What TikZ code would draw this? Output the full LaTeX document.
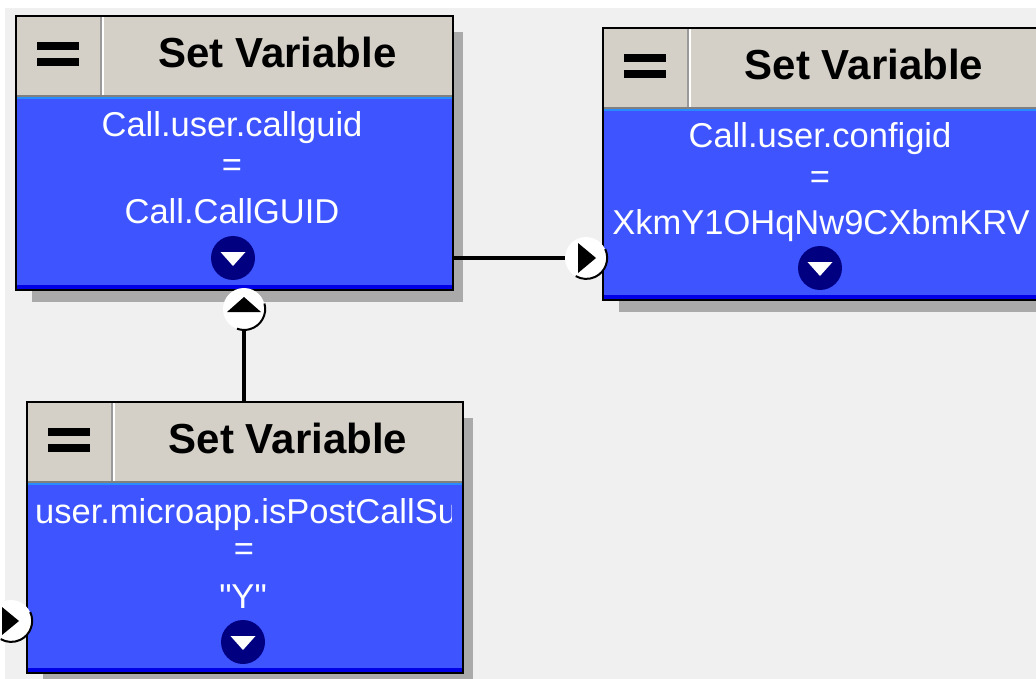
\documentclass[tikz,border=0pt]{standalone}
\usepackage{fontspec}
\setmainfont{Liberation Sans}[Ligatures=TeXOff]
\usetikzlibrary{fit}
\definecolor{bgcol}{RGB}{240,240,240}
\definecolor{hdrcol}{RGB}{212,208,200}
\definecolor{bodycol}{RGB}{61,84,255}
\definecolor{navycol}{RGB}{0,0,128}
\definecolor{shadowcol}{RGB}{170,170,170}
\definecolor{rimcol}{RGB}{40,140,255}
\definecolor{basecol}{RGB}{0,0,230}
\tikzset{
  boxshadow/.style={fill=shadowcol},
  boxbody/.style={fill=bodycol},
  boxhead/.style={fill=hdrcol},
  boxframe/.style={draw=black, line width=2.5pt},
  titletext/.style={font=\fontsize{42}{42}\selectfont\bfseries, text=black, inner sep=0, anchor=base},
  bodytext/.style={font=\fontsize{34.5}{34.5}\selectfont, text=white, inner sep=0, anchor=base},
  eqtext/.style={font=\fontsize{34.5}{34.5}\selectfont, text=white, inner sep=0},
  outport/.style={circle, fill=navycol, minimum size=44pt, inner sep=0},
  inport/.style={circle, fill=white, minimum size=42pt, inner sep=0},
  portrim/.style={draw=black, line width=2pt},
  conn/.style={draw=black, line width=3.5pt},
}
\newcommand\svblock[5]{%
  \fill[boxshadow] (#2+16,#3+16) rectangle (#4+10,#5+12);
  \fill[boxbody] (#2,#3+80) rectangle (#4,#5);
  \fill[boxhead] (#2,#3) rectangle (#4,#3+80);
  \draw[gray, line width=2pt] (#2,#3+80) -- (#4,#3+80);
  \draw[rimcol, line width=2pt] (#2,#3+82) -- (#4,#3+82);
  \draw[basecol, line width=4pt] (#2,#5-3) -- (#4,#5-3);
  \draw[gray!80, line width=1.5pt] (#2+85,#3) -- (#2+85,#3+79);
  \draw[white, line width=1.5pt] (#2+87,#3) -- (#2+87,#3+79);
  \fill[black] (#2+21,#3+26) rectangle (#2+63,#3+34);
  \fill[black] (#2+21,#3+42) rectangle (#2+63,#3+50);
  \draw[boxframe] (#2,#3) rectangle (#4,#5);
  \path (#2,#3) coordinate (#1nw) (#4,#5) coordinate (#1se);
  \node[fit=(#1nw)(#1se), inner sep=0, outer sep=0] (#1) {};
}
\newcommand\svout[3]{%
  \node[outport] (#1) at (#2,#3) {};
  \fill[white] (#2-12.5,#3-6) -- (#2+12.5,#3-6) -- (#2,#3+8) -- cycle;
}
\begin{document}
\begin{tikzpicture}[x=1pt,y=-1pt]
\useasboundingbox (0,0) rectangle (1036,679);
\clip (0,0) rectangle (1036,679);
\fill[white] (0,0) rectangle (1036,679);
\fill[bgcol] (5,8) rectangle (1036,679);

\svblock{b1}{16}{16}{453}{290}
\svblock{b2}{603}{28}{1038}{300}
\svblock{b3}{27}{402}{463}{673}

% titles
\node[titletext] (b1title) at (277.5,68) {Set Variable};
\node[titletext] (b2title) at (864,80) {Set Variable};
\node[titletext] (b3title) at (288,453) {Set Variable};

% block 1 body
\node[bodytext] (b1var) at (232,137) {Call.user.callguid};
\node[eqtext] (b1eq) at (232,168) {=};
\node[bodytext] (b1val) at (232,223) {Call.CallGUID};

% block 2 body
\node[bodytext] (b2var) at (820,148) {Call.user.configid};
\node[eqtext] (b2eq) at (820,180) {=};
\begin{scope}
  \clip (606,111) rectangle (1036,296);
  \node[bodytext] (b2val) at (821,234) {XkmY1OHqNw9CXbmKRV};
\end{scope}

% block 3 body
\begin{scope}
  \clip (30,485) rectangle (451,669);
  \node[bodytext, anchor=base west] (b3var) at (35,523) {user.microapp.isPostCallSu};
\end{scope}
\node[eqtext] (b3eq) at (244,552) {=};
\node[bodytext] (b3val) at (243,608) {"Y"};

% output ports
\svout{b1out}{233}{258}
\svout{b2out}{820}{268}
\svout{b3out}{243}{642}

% input / connector ports
\node[inport] (p1up) at (244,309) {};
\draw[portrim] (p1up.15) arc[start angle=15, end angle=-110, radius=21pt];
\fill[black] (227,312) -- (261,312) -- (244,297) -- cycle;

\node[inport] (p2in) at (586,258) {};
\draw[portrim] (p2in.25) arc[start angle=25, end angle=-120, radius=21pt];
\fill[black] (578,243) -- (578,273) -- (596,258) -- cycle;

\node[inport] (p3in) at (11,621) {};
\draw[portrim] (p3in.25) arc[start angle=25, end angle=-120, radius=21pt];
\fill[black] (2,607) -- (2,635) -- (19,621) -- cycle;

% connectors
\draw[conn] (b1.east |- p2in) -- (p2in.west);
\draw[conn] (p1up.south) -- (p1up.south |- b3.north);
\end{tikzpicture}
\end{document}
